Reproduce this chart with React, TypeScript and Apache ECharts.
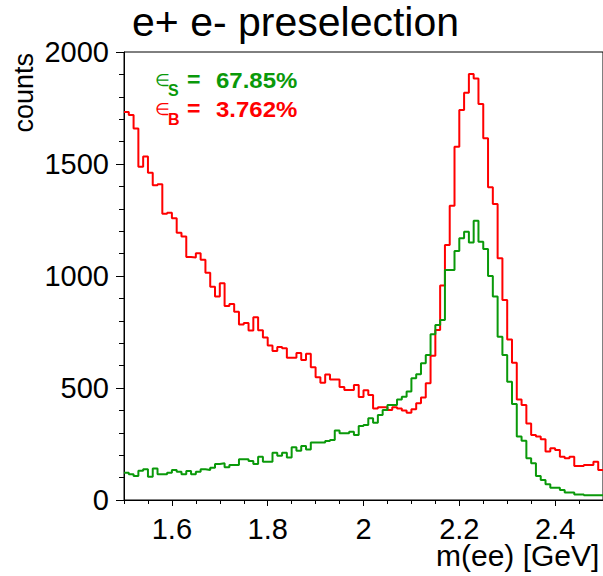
import React, { useEffect, useRef } from 'react';
import * as echarts from 'echarts';

const BIN_START = 1.5;
const BIN_WIDTH = 0.01;

// background (red) counts per bin, 1.50 .. 2.50
const background = [
  1732, 1719, 1659, 1488, 1533, 1461, 1405, 1410, 1278, 1282,
  1258, 1193, 1176, 1085, 1083, 1102, 1072, 1015, 952, 908,
  968, 866, 875, 840, 784, 790, 757, 816, 758, 726,
  690, 665, 683, 678, 635, 635, 656, 625, 653, 593,
  548, 523, 560, 538, 538, 505, 491, 491, 513, 460,
  490, 469, 409, 414, 414, 402, 414, 409, 399, 390,
  405, 432, 458, 521, 644, 759, 958, 1138, 1314, 1577,
  1741, 1818, 1902, 1882, 1768, 1615, 1396, 1321, 1079, 893,
  717, 613, 449, 424, 342, 290, 283, 271, 216, 231,
  223, 193, 186, 193, 152, 152, 156, 156, 171, 134,
];

// signal (green) counts per bin
const signal = [
  122, 115, 107, 131, 137, 104, 141, 115, 115, 122,
  134, 126, 115, 129, 115, 126, 137, 134, 144, 161,
  164, 146, 156, 156, 182, 182, 174, 161, 193, 171,
  171, 211, 198, 211, 190, 235, 220, 241, 226, 257,
  257, 257, 263, 268, 310, 298, 298, 305, 290, 330,
  335, 365, 345, 379, 402, 424, 424, 449, 461, 484,
  543, 561, 610, 647, 740, 781, 804, 1027, 1027, 1112,
  1168, 1198, 1150, 1247, 1153, 1121, 1000, 908, 729, 647,
  528, 429, 283, 265, 186, 164, 107, 89, 70, 55,
  55, 45, 33, 33, 25, 25, 21, 21, 21, 21,
];

const xMajorTicks = [1.6, 1.8, 2.0, 2.2, 2.4];
const xMinorTicks = [
  1.5, 1.55, 1.6, 1.65, 1.7, 1.75, 1.8, 1.85, 1.9, 1.95, 2.0,
  2.05, 2.1, 2.15, 2.2, 2.25, 2.3, 2.35, 2.4, 2.45, 2.5,
];

const titleText = 'e+ e- preselection';
const xTitle = 'm(ee) [GeV]';
const yTitle = 'counts';
const effS = '67.85%';
const effB = '3.762%';

const RED = '#ff0000';
const GREEN = '#0a990a';
const FONT = "'Liberation Sans', Arial, Helvetica, sans-serif";

function toSteps(vals: number[]): number[][] {
  const pts = vals.map((v, i) => [+(BIN_START + i * BIN_WIDTH).toFixed(2), v]);
  pts.push([+(BIN_START + vals.length * BIN_WIDTH).toFixed(2), vals[vals.length - 1]]);
  return pts;
}

export default function App() {
  const ref = useRef<HTMLDivElement>(null);
  useEffect(() => {
    if (!ref.current) return;
    const chart = echarts.init(ref.current, undefined, { renderer: 'svg' });
    const effRow = (y: number, sub: string, val: string, color: string) => [
      { type: 'text', x: 155, y, style: { text: '\u2208', font: `17px ${FONT}`, fill: color, verticalAlign: 'middle', align: 'left' } },
      { type: 'text', x: 168, y: y + 10, style: { text: sub, font: `bold 16px ${FONT}`, fill: color, verticalAlign: 'middle', align: 'left' } },
      { type: 'text', x: 187, y: y, scaleX: 1.05, style: { text: '=', font: `bold 22px ${FONT}`, fill: color, verticalAlign: 'middle', align: 'left' } },
      { type: 'text', x: 216, y, scaleX: 1.09, style: { text: val, font: `bold 22px ${FONT}`, fill: color, verticalAlign: 'middle', align: 'left' } },
    ];
    chart.setOption({
      animation: false,
      backgroundColor: '#ffffff',
      grid: {
        left: 124, top: 52, width: 481, height: 448,
        show: true, borderColor: '#000', borderWidth: 1, backgroundColor: 'transparent',
      },
      xAxis: [
        {
          type: 'value', min: 1.5, max: 2.5, position: 'bottom',
          axisLine: { show: true, onZero: false, lineStyle: { color: '#000', width: 1 } },
          axisTick: { show: true, length: 6, customValues: xMajorTicks, lineStyle: { color: '#000', width: 1 } },
          axisLabel: { customValues: xMajorTicks, fontSize: 29, color: '#000', margin: 14, fontFamily: FONT, formatter: (v: number) => String(v) },
          splitLine: { show: false },
        },
        {
          type: 'value', min: 1.5, max: 2.5, position: 'bottom',
          axisLine: { show: false, onZero: false },
          axisTick: { show: true, length: 4, customValues: xMinorTicks, lineStyle: { color: '#000', width: 1 } },
          axisLabel: { show: false },
          splitLine: { show: false },
        },
      ],
      yAxis: {
        type: 'value', min: 0, max: 2000, interval: 500,
        axisLine: { show: true, onZero: false, lineStyle: { color: '#000', width: 1 } },
        axisTick: { show: true, length: 8, lineStyle: { color: '#000', width: 1 } },
        minorTick: { show: true, splitNumber: 5, length: 5, lineStyle: { color: '#000', width: 1 } },
        axisLabel: { fontSize: 29, color: '#000', margin: 15, fontFamily: FONT, padding: [6, 0, 0, 0], formatter: (v: number) => String(v) },
        splitLine: { show: false },
      },
      series: [
        {
          type: 'line', name: 'background', xAxisIndex: 0, step: 'end', showSymbol: false,
          data: toSteps(background), lineStyle: { color: RED, width: 2 }, itemStyle: { color: RED },
        },
        {
          type: 'line', name: 'signal', xAxisIndex: 0, step: 'end', showSymbol: false,
          data: toSteps(signal), lineStyle: { color: GREEN, width: 2 }, itemStyle: { color: GREEN },
        },
      ],
      graphic: [
        { type: 'text', x: 132, y: 21.5, style: { text: titleText, font: `41px ${FONT}`, fill: '#000', verticalAlign: 'middle', align: 'left' } },
        { type: 'text', x: 24, y: 53, rotation: Math.PI / 2, style: { text: yTitle, font: `27px ${FONT}`, fill: '#000', verticalAlign: 'middle', align: 'right' } },
        { type: 'text', x: 436, y: 555, style: { text: xTitle, font: `30px ${FONT}`, fill: '#000', verticalAlign: 'middle', align: 'left' } },
        ...effRow(80, 'S', effS, GREEN),
        ...effRow(109, 'B', effB, RED),
      ],
    });
    return () => chart.dispose();
  }, []);
  return <div ref={ref} style={{ position: 'fixed', left: 0, top: 0, width: 603, height: 576, background: '#fff' }} />;
}
